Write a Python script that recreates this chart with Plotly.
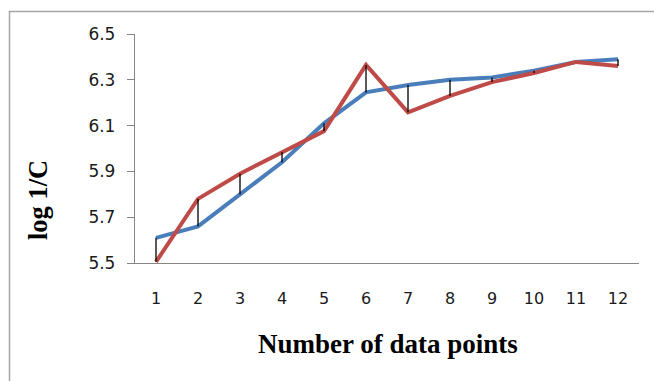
import plotly.graph_objects as go

x_points = list(range(1, 13))
blue_values = [5.61, 5.66, 5.80, 5.94, 6.11, 6.245, 6.277, 6.30, 6.31, 6.34, 6.378, 6.39]
red_values = [5.505, 5.78, 5.89, 5.985, 6.076, 6.365, 6.158, 6.23, 6.29, 6.33, 6.378, 6.36]
y_ticks = [5.5, 5.7, 5.9, 6.1, 6.3, 6.5]
x_title = "Number of data points"
y_title = "log 1/C"

BLUE = "#4A7EBB"
RED = "#BE4B48"

# high-low connector lines
hl_x, hl_y = [], []
for xv, b, r in zip(x_points, blue_values, red_values):
    hl_x += [xv, xv, None]
    hl_y += [b, r, None]

fig = go.Figure()
fig.add_trace(go.Scatter(x=x_points, y=blue_values, mode="lines",
                         line=dict(color=BLUE, width=4), hoverinfo="skip"))
fig.add_trace(go.Scatter(x=x_points, y=red_values, mode="lines",
                         line=dict(color=RED, width=4), hoverinfo="skip"))
fig.add_trace(go.Scatter(x=hl_x, y=hl_y, mode="lines",
                         line=dict(color="black", width=1.3), hoverinfo="skip"))

L, R, T, B = 135, 15, 34, 118
W, H = 654, 381
pw, ph = W - L - R, H - T - B

def px(xp):
    return (xp - L) / pw

def py(yp):
    return (H - B - yp) / ph

fig.update_layout(
    width=W, height=H,
    margin=dict(l=L, r=R, t=T, b=B),
    paper_bgcolor="white", plot_bgcolor="white",
    showlegend=False,
    xaxis=dict(range=[0.5, 12.5], tickvals=x_points, ticktext=[str(v) for v in x_points],
               showgrid=False, zeroline=False, showline=True, linecolor="#868686", linewidth=1.3,
               ticks="", ticklabelstandoff=21,
               tickfont=dict(family="DejaVu Sans", size=16, color="#1a1a1a")),
    yaxis=dict(range=[5.5, 6.5], tickvals=y_ticks, ticktext=[f"{v:.1f}" for v in y_ticks],
               showgrid=False, zeroline=False, showline=True, linecolor="#868686", linewidth=1.3,
               ticks="outside", ticklen=7, tickcolor="#868686", tickwidth=1.3,
               ticklabelstandoff=8,
               tickfont=dict(family="DejaVu Sans", size=17, color="#1a1a1a")),
    annotations=[
        dict(text=f"<b>{x_title}</b>", xref="paper", yref="paper", x=px(388), y=py(344),
             showarrow=False, xanchor="center", yanchor="middle",
             font=dict(family="Liberation Serif", size=27, color="black")),
        dict(text=f"<b>{y_title}</b>", xref="paper", yref="paper", x=px(38), y=py(200),
             showarrow=False, xanchor="center", yanchor="middle", textangle=-90,
             font=dict(family="Liberation Serif", size=26.5, color="black")),
    ],
    shapes=[
        dict(type="path", xref="paper", yref="paper",
             path=f"M {px(9.5)} {py(400)} L {px(9.5)} {py(11.5)} L {px(660)} {py(11.5)}",
             line=dict(color="#A6A6A6", width=1.5)),
    ],
)

fig.write_html("out.html", config={"displayModeBar": False},
               post_script="document.body.style.margin='0';")
